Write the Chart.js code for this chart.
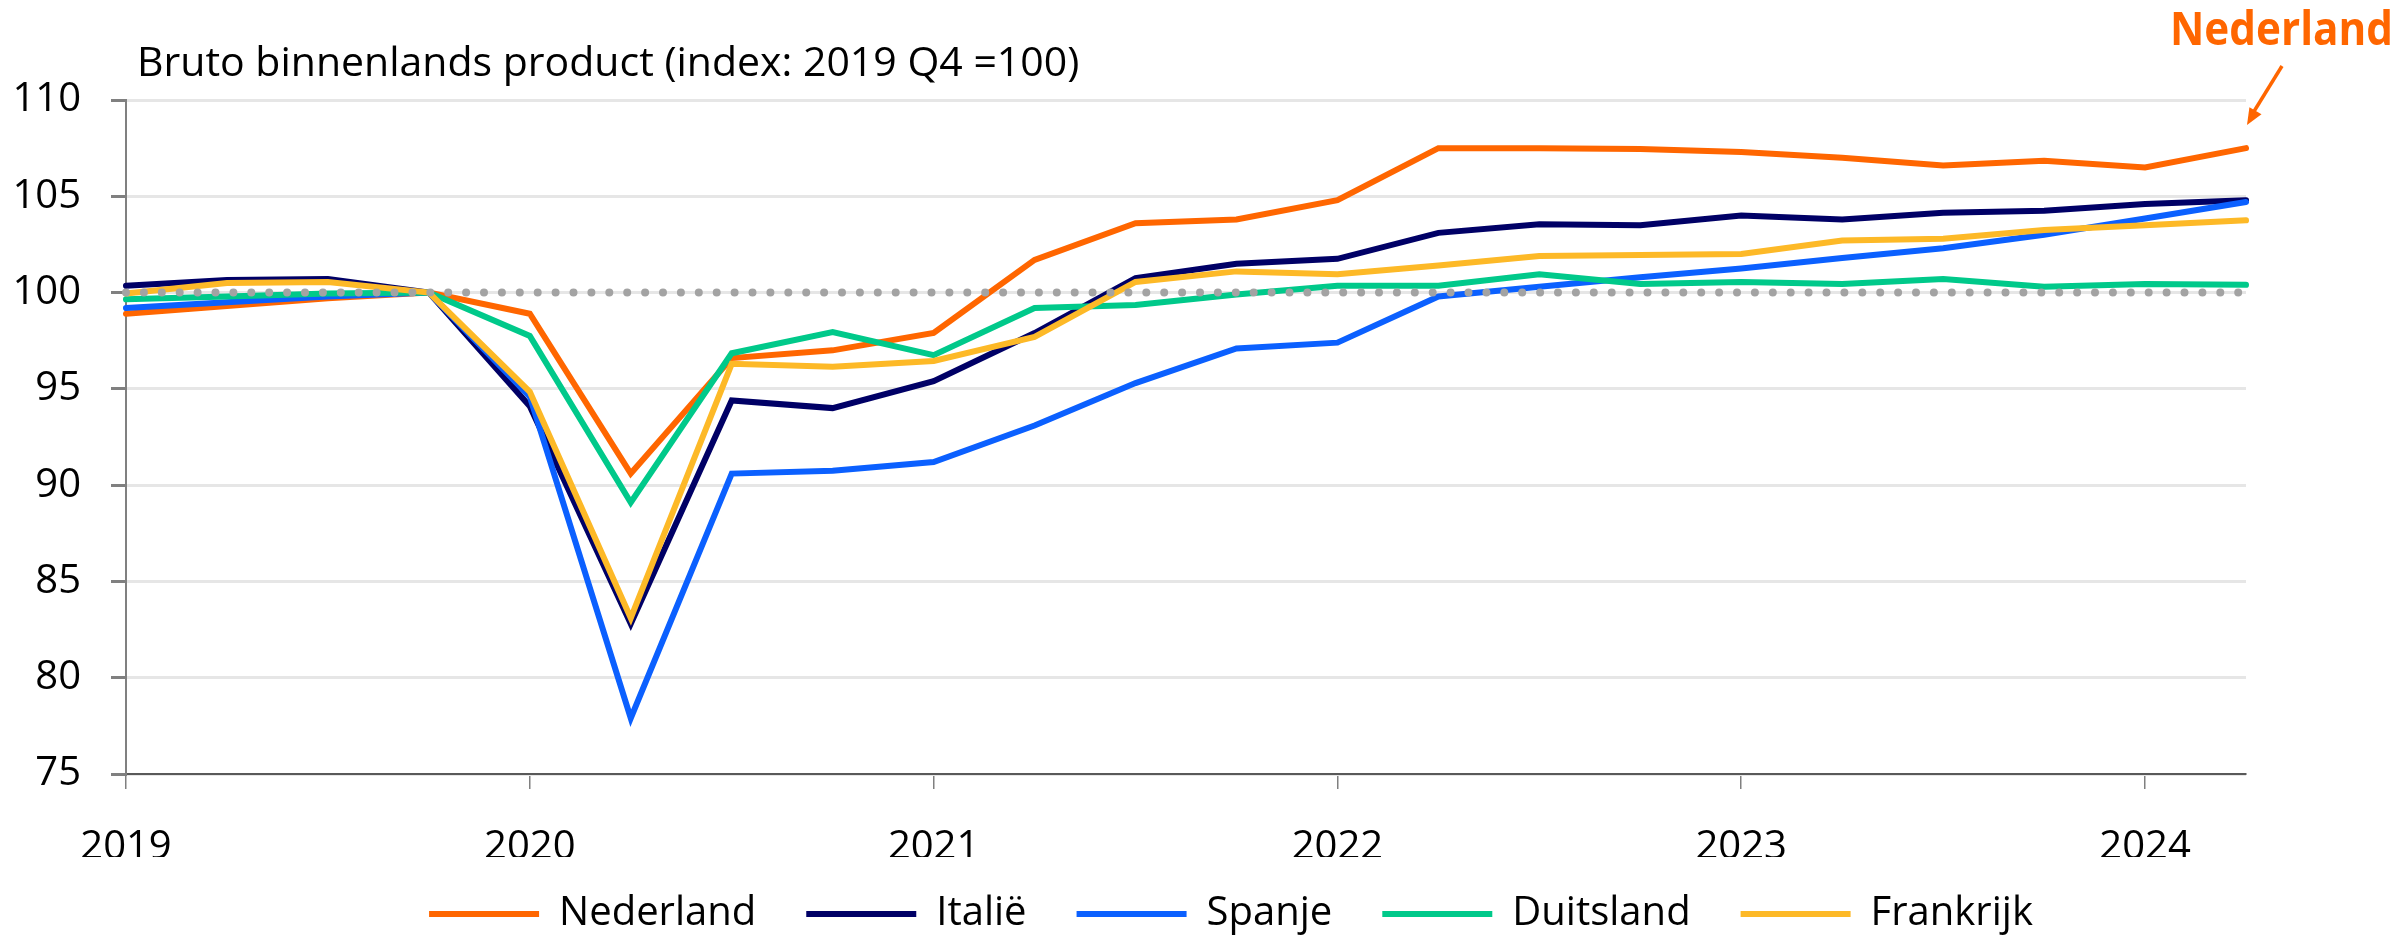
<!DOCTYPE html>
<html>
<head>
<meta charset="utf-8">
<script src="https://cdn.jsdelivr.net/npm/chart.js@4"></script>
<style>
  html, body { margin: 0; padding: 0; background: #ffffff; }
  #wrap { width: 2405px; height: 939px; position: relative; }
</style>
</head>
<body>
<div id="wrap"><canvas id="bbpChart"></canvas></div>
<script>
// kwartalen 2019 Q1 t/m 2024 Q2
const quarters = [
  '2019 Q1', '2019 Q2', '2019 Q3', '2019 Q4',
  '2020 Q1', '2020 Q2', '2020 Q3', '2020 Q4',
  '2021 Q1', '2021 Q2', '2021 Q3', '2021 Q4',
  '2022 Q1', '2022 Q2', '2022 Q3', '2022 Q4',
  '2023 Q1', '2023 Q2', '2023 Q3', '2023 Q4',
  '2024 Q1', '2024 Q2'
];

const nederland = [98.9, 99.3, 99.7, 100, 98.9, 90.6, 96.6, 97.0, 97.9, 101.7, 103.6, 103.8,
  104.8, 107.5, 107.5, 107.45, 107.3, 107.0, 106.6, 106.85, 106.5, 107.5];
const italie = [100.35, 100.65, 100.7, 100, 94.1, 82.8, 94.4, 94.0, 95.4, 97.9, 100.75, 101.5,
  101.75, 103.1, 103.55, 103.5, 104.0, 103.8, 104.15, 104.25, 104.6, 104.8];
const spanje = [99.2, 99.5, 99.8, 100, 94.6, 77.9, 90.6, 90.75, 91.2, 93.1, 95.3, 97.1,
  97.4, 99.8, 100.3, 100.8, 101.25, 101.8, 102.3, 103.0, 103.85, 104.7];
const duitsland = [99.65, 99.8, 99.95, 100, 97.75, 89.1, 96.85, 97.95, 96.75, 99.2, 99.35, 99.9,
  100.35, 100.35, 100.95, 100.45, 100.55, 100.45, 100.7, 100.3, 100.45, 100.4];
const frankrijk = [99.95, 100.5, 100.55, 100, 94.85, 83.1, 96.3, 96.15, 96.45, 97.7, 100.55, 101.1,
  100.95, 101.4, 101.9, 101.95, 102.0, 102.7, 102.8, 103.25, 103.5, 103.75];
const basis = quarters.map(() => 100);

const yTicks = [75, 80, 85, 90, 95, 100, 105, 110];

const FONT = '"Open Sans", "Noto Sans", sans-serif';

function serie(label, data, color, order) {
  return {
    label: label,
    data: data,
    borderColor: color,
    backgroundColor: color,
    borderWidth: 6,
    borderCapStyle: 'round',
    pointRadius: 0,
    tension: 0,
    order: order
  };
}

// titel + annotatie "Nederland" met pijl
const annotations = {
  id: 'annotations',
  afterLayout(chart) {
    // legenda iets naar rechts en omhoog, zoals in het origineel
    const lg = chart.legend;
    const shift = 1231 - (lg.left + lg.right) / 2;
    lg.left += shift;
    lg.right += shift;
    lg.top -= 13;
    lg.bottom -= 13;
  },
  afterDraw(chart) {
    const c = chart.ctx;
    c.save();
    c.fillStyle = '#000000';
    c.font = '41px ' + FONT;
    c.textBaseline = 'alphabetic';
    c.textAlign = 'left';
    c.fillText('Bruto binnenlands product (index: 2019 Q4 =100)', 137, 76);

    c.fillStyle = '#FF6600';
    c.font = 'bold 46px ' + FONT;
    c.fillText('Nederland', 2170, 45, 223);

    c.strokeStyle = '#FF6600';
    c.lineWidth = 3.5;
    c.beginPath();
    c.moveTo(2282, 66);
    c.lineTo(2253, 113);
    c.stroke();
    const ang = Math.atan2(125 - 66, 2247 - 2282);
    c.beginPath();
    c.moveTo(2247, 125);
    c.lineTo(2247 - 18 * Math.cos(ang - 0.4), 125 - 18 * Math.sin(ang - 0.4));
    c.lineTo(2247 - 18 * Math.cos(ang + 0.4), 125 - 18 * Math.sin(ang + 0.4));
    c.closePath();
    c.fill();
    c.restore();
  }
};

const ctx = document.getElementById('bbpChart').getContext('2d');
const chart = new Chart(ctx, {
  type: 'line',
  data: {
    labels: quarters,
    datasets: [
      serie('Nederland', nederland, '#FF6600', 5),
      serie('Italië', italie, '#000066', 4),
      serie('Spanje', spanje, '#0B60FF', 3),
      serie('Duitsland', duitsland, '#00C98A', 2),
      serie('Frankrijk', frankrijk, '#FDB927', 1),
      {
        label: 'basis',
        data: basis,
        borderColor: '#A3A3A3',
        borderWidth: 8,
        borderDash: [0, 17.9],
        borderCapStyle: 'round',
        pointRadius: 0,
        order: 0
      }
    ]
  },
  options: {
    responsive: true,
    maintainAspectRatio: false,
    devicePixelRatio: 1,
    animation: false,
    layout: {
      padding: { left: 14, right: 159, top: 100, bottom: -18 }
    },
    plugins: {
      title: { display: false },
      tooltip: { enabled: false },
      legend: {
        position: 'bottom',
        align: 'center',
        labels: {
          usePointStyle: true,
          pointStyle: 'line',
          pointStyleWidth: 110,
          boxHeight: 40,
          padding: 50,
          color: '#000000',
          font: { family: FONT, size: 40 },
          filter: item => item.text !== 'basis',
          sort: (a, b) => a.datasetIndex - b.datasetIndex
        }
      }
    },
    scales: {
      x: {
        offset: false,
        afterFit: axis => { axis.height = 83; },
        border: { display: true, color: '#595959', width: 2 },
        grid: {
          drawOnChartArea: false,
          drawTicks: true,
          tickLength: 15,
          color: '#808080',
          tickColor: '#808080',
          lineWidth: 1.5
        },
        ticks: {
          autoSkip: false,
          maxRotation: 0,
          padding: 35,
          color: '#000000',
          font: { family: FONT, size: 40 },
          callback: function (value, index) {
            const lbl = quarters[index];
            return lbl.endsWith('Q1') ? lbl.slice(0, 4) : null;
          }
        }
      },
      y: {
        min: 75,
        max: 110,
        afterBuildTicks: axis => { axis.ticks = yTicks.map(v => ({ value: v })); },
        afterFit: axis => { axis.width = 112; },
        border: { display: true, color: '#808080', width: 2 },
        grid: {
          color: '#E6E6E6',
          lineWidth: 3,
          tickLength: 15,
          tickColor: '#808080'
        },
        ticks: {
          padding: 30,
          color: '#000000',
          font: { family: FONT, size: 40 }
        }
      }
    }
  },
  plugins: [annotations]
});
</script>
</body>
</html>
